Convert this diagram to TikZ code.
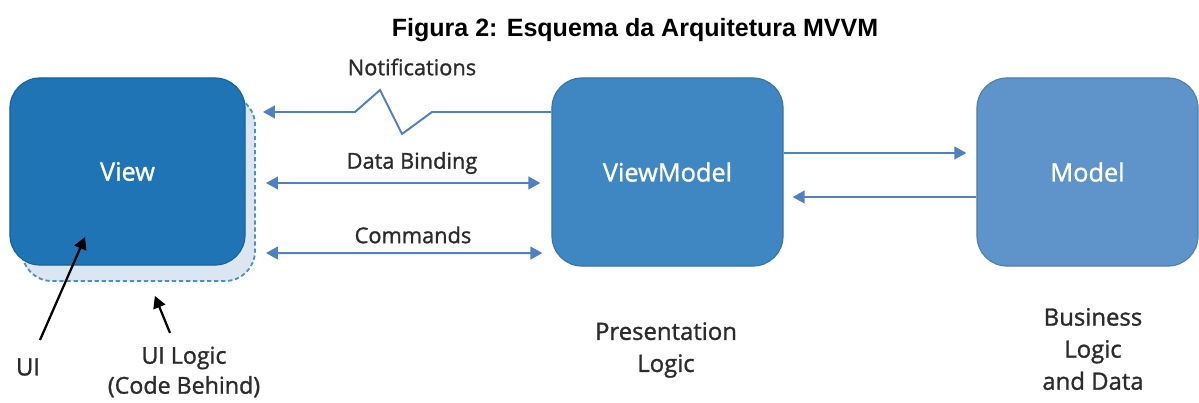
\documentclass[tikz,border=0pt]{standalone}
\usepackage{fontspec}
\setmainfont{Open Sans}[FakeBold=1.2]
\newfontfamily\titlefont{Liberation Sans}
\usetikzlibrary{arrows.meta}
\definecolor{viewblue}{HTML}{1E74B5}
\definecolor{vmblue}{HTML}{3F87C2}
\definecolor{modelblue}{HTML}{5E94C9}
\definecolor{linkblue}{HTML}{4F80C0}
\definecolor{shade}{HTML}{DCE6F2}
\definecolor{labelgray}{HTML}{2B2B2B}
\tikzset{
  box/.style={rounded corners=0.75cm, draw=#1!85!black, fill=#1, text=white,
    font=\fontsize{18}{21}\selectfont, line width=0.8pt},
  link/.style={draw=linkblue, line width=1.4pt, -{Triangle[width=9pt,length=8.5pt]}},
  twoway/.style={link, {Triangle[width=9pt,length=8.5pt]}-{Triangle[width=9pt,length=8.5pt]}},
  pointer/.style={draw=black, line width=1.6pt, -{Triangle[width=9pt,length=8.5pt]}},
  lbl/.style={text=labelgray, font=\fontsize{15.5}{17}\selectfont},
  caption/.style={text=labelgray, font=\fontsize{17}{22.8}\selectfont, align=center}
}
\begin{document}
\begin{tikzpicture}[x=0.025cm, y=-0.025cm]
  \useasboundingbox (0,0) rectangle (1199,402);
  \node[font=\titlefont\bfseries\fontsize{17.8}{20}\selectfont] (title) at (635,30) {Figura 2: Esquema da Arquitetura MVVM};
  % view with its code behind
  \node[rounded corners=0.75cm, draw=viewblue!80!white, fill=shade, dash pattern=on 3pt off 2pt, line width=1.3pt,
    minimum width=5.825cm, minimum height=4.65cm] (logic) at (138.5,188) {};
  \node[box=viewblue, minimum width=5.875cm, minimum height=4.675cm] (view) at (127.5,171.5) {View};
  \node[box=vmblue, minimum width=5.775cm, minimum height=4.7cm] (viewmodel) at (667.5,172) {ViewModel};
  \node[box=modelblue, minimum width=5.525cm, minimum height=4.7cm] (model) at (1087.5,172) {Model};
  % connectors
  \begin{scope}
    \draw[link] ([yshift=1.5cm]viewmodel.west) -- (432,112) -- (402,134) -- (380,90) -- (355,112)
      -- ([xshift=0.175cm,yshift=1.9cm]logic.east);
    \draw[twoway] ([xshift=0.25cm,yshift=0.125cm]logic.east) -- ([xshift=-0.275cm,yshift=-0.275cm]viewmodel.west);
    \draw[twoway] ([xshift=0.25cm,yshift=-1.625cm]logic.east) -- ([xshift=-0.225cm,yshift=-2.025cm]viewmodel.west);
    \draw[link] ([yshift=0.475cm]viewmodel.east) -- ([xshift=-0.25cm,yshift=0.475cm]model.west);
    \draw[link] ([yshift=-0.625cm]model.west) -- ([xshift=0.225cm,yshift=-0.625cm]viewmodel.east);
  \end{scope}
  \node[lbl] (notif) at (412,67) {Notifications};
  \node[lbl] (binding) at (412,163) {Data Binding};
  \node[lbl] (commands) at (413,235) {Commands};
  % captions below
  \node[caption] (ui) at (28,367) {UI};
  \node[caption, font=\fontsize{16.5}{21.3}\selectfont] (uilogic) at (184,372) {UI Logic\\(Code Behind)};
  \node[caption] (presentation) at (666,350) {Presentation\\Logic};
  \node[caption] (business) at (1093,349) {Business\\Logic\\and Data};
  \coordinate (uitail) at (40,340);
  \coordinate (logictail) at (170,333);
  \draw[pointer] (uitail) -- ([xshift=-1.06cm,yshift=-1.64cm]view.center);
  \draw[pointer] (logictail) -- ([xshift=0.41cm,yshift=-0.35cm]logic.south);
\end{tikzpicture}
\end{document}
